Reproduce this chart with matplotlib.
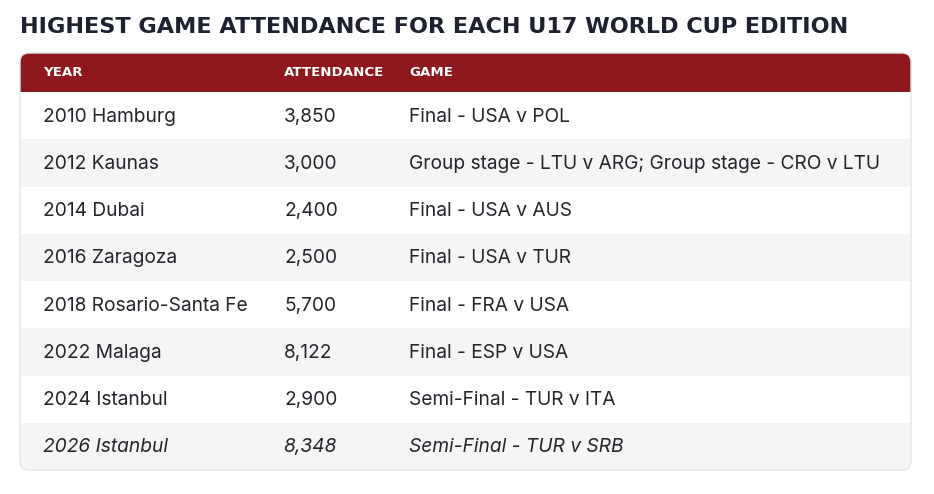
import matplotlib
matplotlib.use("Agg")
import matplotlib.pyplot as plt
from matplotlib.patches import FancyBboxPatch, Rectangle

title = "HIGHEST GAME ATTENDANCE FOR EACH U17 WORLD CUP EDITION"
columns = ["YEAR", "ATTENDANCE", "GAME"]
editions = ["2010 Hamburg", "2012 Kaunas", "2014 Dubai", "2016 Zaragoza",
            "2018 Rosario-Santa Fe", "2022 Malaga", "2024 Istanbul", "2026 Istanbul"]
attendance = [3850, 3000, 2400, 2500, 5700, 8122, 2900, 8348]
games = ["Final - USA v POL",
         "Group stage - LTU v ARG; Group stage - CRO v LTU",
         "Final - USA v AUS",
         "Final - USA v TUR",
         "Final - FRA v USA",
         "Final - ESP v USA",
         "Semi-Final - TUR v ITA",
         "Semi-Final - TUR v SRB"]
italic_rows = [False, False, False, False, False, False, False, True]

W, H = 934, 494
fig = plt.figure(figsize=(W / 100, H / 100), dpi=100)
ax = fig.add_axes([0, 0, 1, 1])
ax.set_xlim(0, W)
ax.set_ylim(H, 0)
ax.axis("off")

left, right, top, bottom = 20, 911, 53, 470
header_h = 39
row_h = (bottom - top - header_h) / len(editions)
col_x = [43, 284, 409]
red = "#8e181d"
grey = "#f5f5f5"
txt = "#22252b"
body_font = ["Inter", "DejaVu Sans"]

box = FancyBboxPatch((left, top), right - left, bottom - top,
                     boxstyle="round,pad=0,rounding_size=9",
                     facecolor="white", edgecolor="none", zorder=1)
ax.add_patch(box)

hdr = Rectangle((left, top), right - left, header_h, facecolor=red,
                edgecolor="none", zorder=2)
ax.add_patch(hdr)
hdr.set_clip_path(box)

for i, (ed, att, gm, it) in enumerate(zip(editions, attendance, games, italic_rows)):
    y0 = top + header_h + i * row_h
    if i % 2 == 1:
        r = Rectangle((left, y0), right - left, row_h, facecolor=grey,
                      edgecolor="none", zorder=2)
        ax.add_patch(r)
        r.set_clip_path(box)
    yc = y0 + row_h / 2 + 1
    style = "italic" if it else "normal"
    for x, s in zip(col_x, [ed, f"{att:,}", gm]):
        ax.text(x, yc, s, fontsize=13.8, family=body_font, style=style,
                color=txt, va="center", ha="left", zorder=4)

for x, s in zip(col_x, columns):
    ax.text(x, top + header_h / 2 + 0.5, s, fontsize=9.6, fontweight="bold",
            family=["DejaVu Sans"], color="white", va="center", ha="left", zorder=4)

border = FancyBboxPatch((left, top), right - left, bottom - top,
                        boxstyle="round,pad=0,rounding_size=9",
                        facecolor="none", edgecolor="#e4e4e4", linewidth=1, zorder=5)
ax.add_patch(border)

ax.text(20, 27, title, fontsize=16.1, fontweight="bold", family=["DejaVu Sans"],
        color="#1d2130", va="center", ha="left", zorder=4)

fig.savefig("out.png", dpi=100)
